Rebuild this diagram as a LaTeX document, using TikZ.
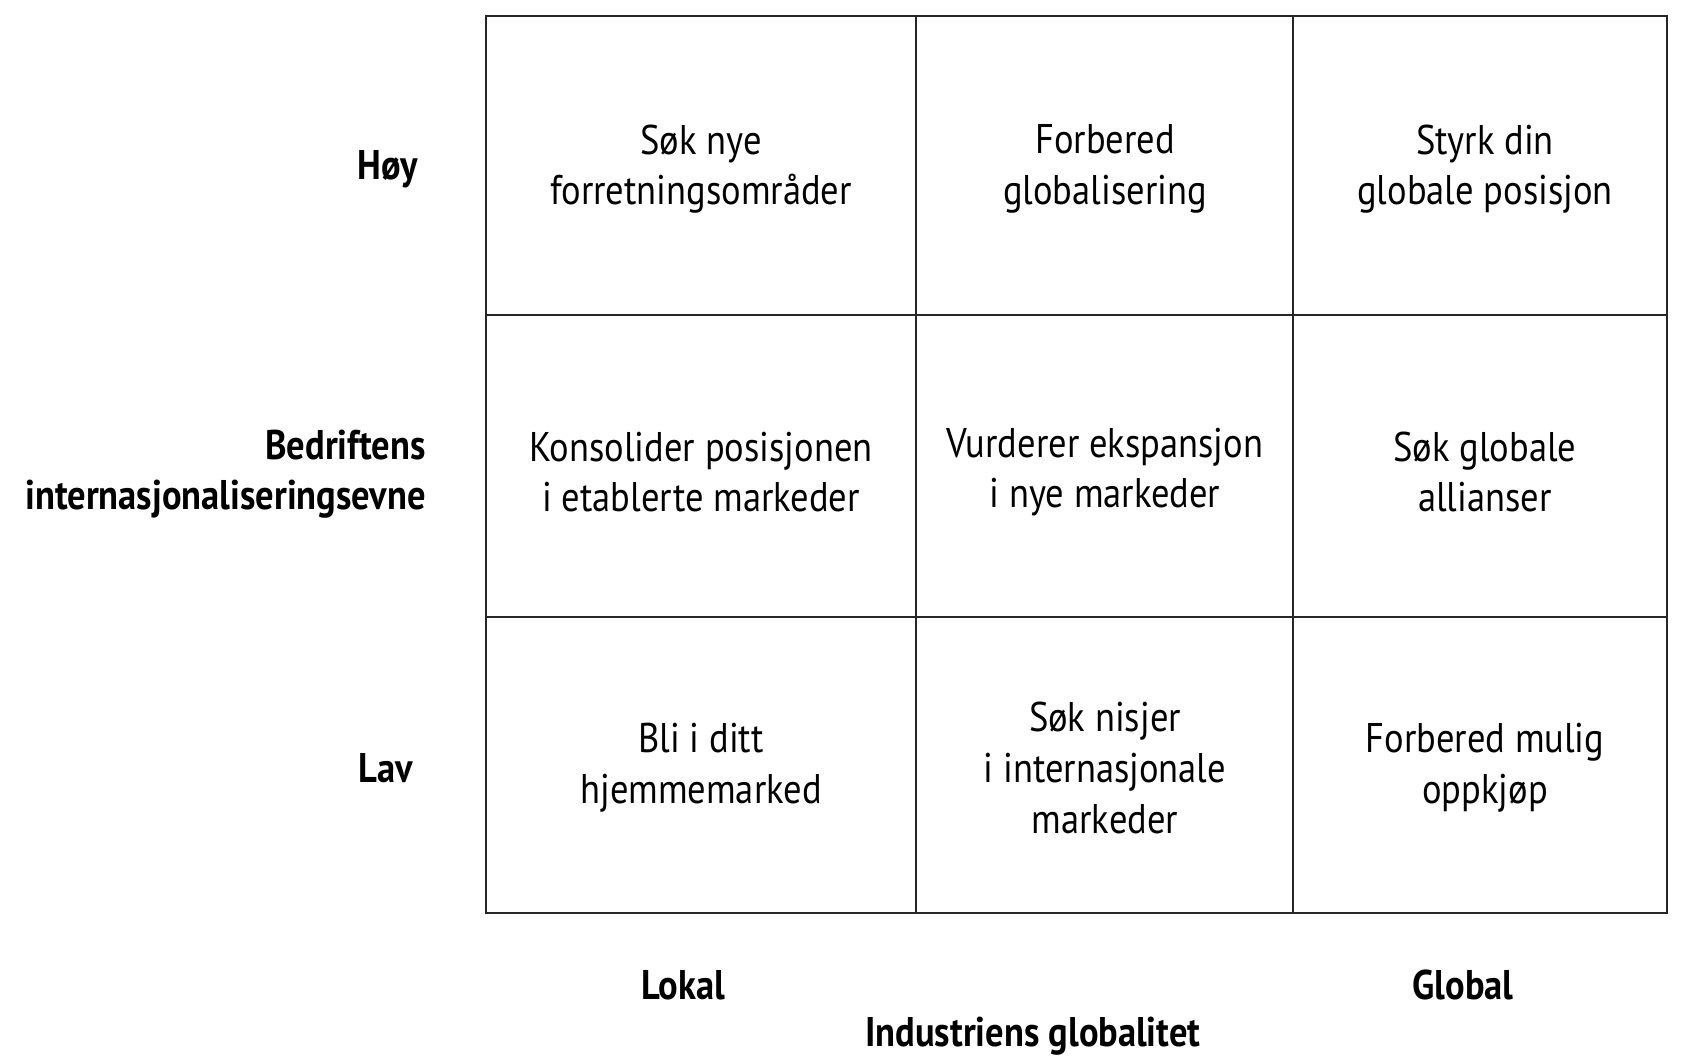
\documentclass[tikz,border=0pt]{standalone}
\usepackage{fontspec}
\setmainfont[FakeStretch=0.88]{PT Sans}
\begin{document}
\begin{tikzpicture}[
  cell/.style={align=center, font=\fontsize{11.8}{14.4}\selectfont},
  axis/.style={font=\fontsize{11.8}{14.4}\selectfont\bfseries}]
\useasboundingbox (0,0) rectangle (16.82,10.62);
% grid
\draw[line width=0.25mm,black!85] (4.86,1.49) rectangle (16.67,10.46);
\draw[line width=0.25mm,black!85] (9.16,1.49) -- (9.16,10.46);
\draw[line width=0.25mm,black!85] (12.93,1.49) -- (12.93,10.46);
\draw[line width=0.25mm,black!85] (4.86,7.47) -- (16.67,7.47);
\draw[line width=0.25mm,black!85] (4.86,4.45) -- (16.67,4.45);

\node[cell] (a1) at (7.01,8.93) {Søk nye\\forretningsområder};
\node[cell] (a2) at (11.05,8.93) {Forbered\\globalisering};
\node[cell] (a3) at (14.85,8.93) {Styrk din\\globale posisjon};
\node[cell] (b1) at (7.01,5.9) {Konsolider posisjonen\\i etablerte markeder};
\node[cell] (b2) at (11.05,5.9) {Vurderer ekspansjon\\i nye markeder};
\node[cell] (b3) at (14.85,5.9) {Søk globale\\allianser};
\node[cell] (c1) at (7.01,2.94) {Bli i ditt\\hjemmemarked};
\node[cell] (c2) at (11.05,2.94) {Søk nisjer\\i internasjonale\\markeder};
\node[cell] (c3) at (14.85,2.94) {Forbered mulig\\oppkjøp};

\node[axis, anchor=east] (hoy) at (4.3,8.93) {Høy};
\node[axis, anchor=east, align=right] (evne) at (4.38,5.88) {Bedriftens\\internasjonaliseringsevne};
\node[axis, anchor=east] (lav) at (4.25,2.94) {Lav};
\node[axis] (lokal) at (6.83,0.77) {Lokal};
\node[axis] (global) at (14.63,0.77) {Global};
\node[axis] (ind) at (10.33,0.26) {Industriens globalitet};
\end{tikzpicture}
\end{document}
